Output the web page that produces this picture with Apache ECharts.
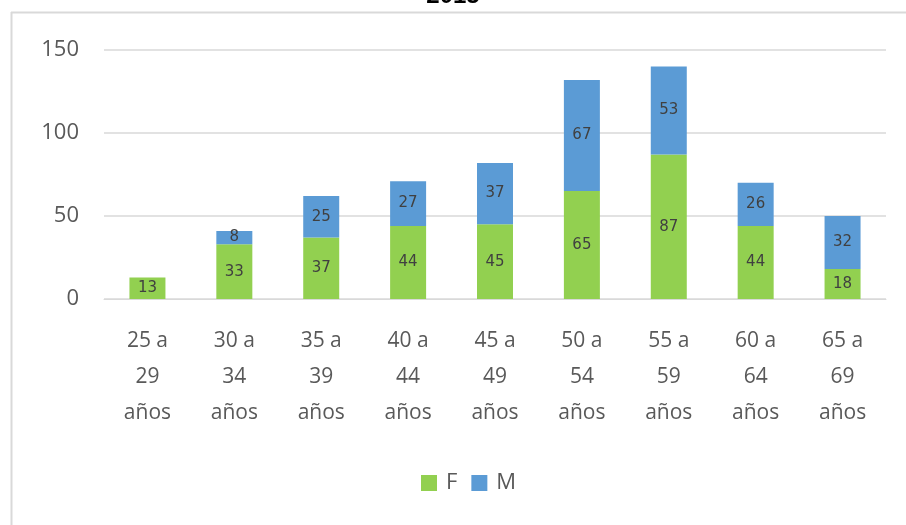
<!DOCTYPE html>
<html>
<head>
<meta charset="utf-8">
<script src="https://cdn.jsdelivr.net/npm/echarts@6/dist/echarts.min.js"></script>
<style>
  html, body { margin: 0; padding: 0; background: #fff; }
  #chart { width: 906px; height: 525px; }
</style>
</head>
<body>
<div id="chart"></div>
<script>
  // grupos de edad
  var categories = ['25 a\n29\naños', '30 a\n34\naños', '35 a\n39\naños', '40 a\n44\naños', '45 a\n49\naños',
    '50 a\n54\naños', '55 a\n59\naños', '60 a\n64\naños', '65 a\n69\naños'];
  var valuesF = [13, 33, 37, 44, 45, 65, 87, 44, 18];
  var valuesM = [null, 8, 25, 27, 37, 67, 53, 26, 32];
  var yTicks = [0, 50, 100, 150];

  var myChart = echarts.init(document.getElementById('chart'));
  var labelStyle = {
    show: true,
    position: 'inside',
    color: '#404040',
    fontSize: 15,
    fontFamily: 'DejaVu Sans'
  };
  myChart.setOption({
    animation: false,
    textStyle: { fontFamily: 'Open Sans' },
    title: {
      text: '2015',
      left: 'center',
      top: -21,
      textStyle: { fontFamily: 'Liberation Sans', fontWeight: 'bold', fontSize: 24, color: '#000' }
    },
    graphic: [
      { type: 'line', shape: { x1: 11, y1: 12.5, x2: 906, y2: 12.5 }, style: { stroke: '#d9d9d9', lineWidth: 2 } },
      { type: 'line', shape: { x1: 11.5, y1: 12, x2: 11.5, y2: 525 }, style: { stroke: '#d9d9d9', lineWidth: 2 } }
    ],
    grid: { left: 104, right: 20, top: 50, bottom: 226 },
    legend: {
      bottom: 26,
      left: 416,
      itemWidth: 16,
      itemHeight: 16,
      itemGap: 14,
      icon: 'rect',
      textStyle: { fontSize: 22, color: '#595959', fontFamily: 'Open Sans', padding: [0, 0, 0, 4] },
      data: ['F', 'M']
    },
    xAxis: {
      type: 'category',
      data: categories,
      axisLine: { lineStyle: { color: '#d9d9d9' } },
      axisTick: { show: false },
      axisLabel: { color: '#595959', fontSize: 21, lineHeight: 36, margin: 24, interval: 0 }
    },
    yAxis: {
      type: 'value',
      min: yTicks[0],
      max: yTicks[yTicks.length - 1],
      interval: 50,
      axisLine: { show: false },
      axisTick: { show: false },
      splitLine: { lineStyle: { color: '#d9d9d9', width: 1.5 } },
      axisLabel: { color: '#595959', fontSize: 22, margin: 25 }
    },
    series: [
      {
        name: 'F',
        type: 'bar',
        stack: 'total',
        barWidth: 36,
        itemStyle: { color: '#92D050' },
        label: labelStyle,
        data: valuesF
      },
      {
        name: 'M',
        type: 'bar',
        stack: 'total',
        barWidth: 36,
        itemStyle: { color: '#5B9BD5' },
        label: labelStyle,
        data: valuesM
      }
    ]
  });
</script>
</body>
</html>
